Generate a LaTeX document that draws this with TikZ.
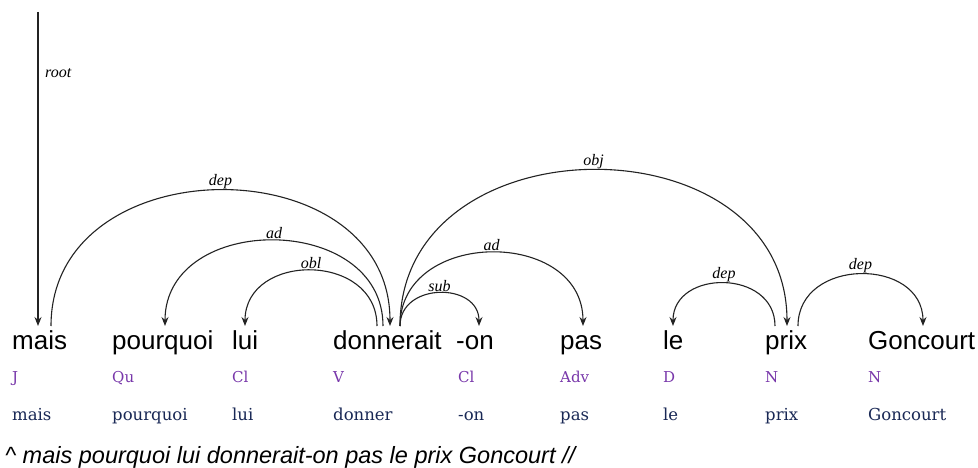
\documentclass[tikz,border=0pt]{standalone}
\usepackage{fontspec}
\setmainfont{Liberation Serif}
\newfontfamily\wordfont{Liberation Sans}
\newfontfamily\posfont{DejaVu Serif}
\usetikzlibrary{arrows.meta}
\definecolor{arcgray}{RGB}{35,35,35}
\definecolor{pospurple}{RGB}{120,55,170}
\definecolor{lemmablue}{RGB}{25,40,85}
\begin{document}
\begin{tikzpicture}[x=1pt,y=-1pt,
  word/.style={anchor=base west, inner sep=0pt, font=\wordfont\fontsize{26}{26}\selectfont},
  postag/.style={anchor=base west, inner sep=0pt, text=pospurple, font=\posfont\fontsize{15}{15}\selectfont},
  lemma/.style={anchor=base west, inner sep=0pt, text=lemmablue, font=\posfont\fontsize{16.5}{17}\selectfont},
  rel/.style={font=\itshape\fontsize{16}{16}\selectfont, inner sep=1pt, anchor=south},
  deparc/.style={draw=arcgray, line width=1.1pt, -{Stealth[length=9pt,width=7pt,inset=3pt]}}
]
\path[fill=white] (0,0) rectangle (978,468);
\useasboundingbox (0,0) rectangle (978,468);

% words
\node[word] (w1) at (12,349) {mais};
\node[word] (w2) at (112,349) {pourquoi};
\node[word] (w3) at (232,349) {lui};
\node[word] (w4) at (333,349) {donnerait};
\node[word] (w5) at (456,349) {-on};
\node[word] (w6) at (560,349) {pas};
\node[word] (w7) at (663,349) {le};
\node[word] (w8) at (765,349) {prix};
\node[word] (w9) at (868,349) {Goncourt};

% POS tags
\node[postag] (p1) at (12,382) {J};
\node[postag] (p2) at (112,382) {Qu};
\node[postag] (p3) at (232,382) {Cl};
\node[postag] (p4) at (333,382) {V};
\node[postag] (p5) at (458,382) {Cl};
\node[postag] (p6) at (560,382) {Adv};
\node[postag] (p7) at (663,382) {D};
\node[postag] (p8) at (765,382) {N};
\node[postag] (p9) at (868,382) {N};

% lemmas
\node[lemma] (l1) at (12,420) {mais};
\node[lemma] (l2) at (112,420) {pourquoi};
\node[lemma] (l3) at (232,420) {lui};
\node[lemma] (l4) at (333,420) {donner};
\node[lemma] (l5) at (458,420) {-on};
\node[lemma] (l6) at (560,420) {pas};
\node[lemma] (l7) at (663,420) {le};
\node[lemma] (l8) at (765,420) {prix};
\node[lemma] (l9) at (868,420) {Goncourt};

% sentence
\node[anchor=base west, inner sep=0pt, font=\wordfont\itshape\fontsize{23.5}{24}\selectfont] (sent) at (5,463)
  {\textasciicircum{} mais pourquoi lui donnerait-on pas le prix Goncourt //};

% arc end points
\coordinate (rootTop) at (38,12);
\coordinate (maisR) at (38,326);
\coordinate (maisO) at (51,326);
\coordinate (pqA) at (165,326);
\coordinate (luiA) at (245,326);
\coordinate (donC) at (377,326);
\coordinate (donB) at (383,326);
\coordinate (donA) at (390,326);
\coordinate (donD) at (400,326);
\coordinate (onA) at (479,326);
\coordinate (pasA) at (583,326);
\coordinate (leA) at (673,326);
\coordinate (prixO) at (775,326);
\coordinate (prixA) at (787,326);
\coordinate (prixP) at (798,326);
\coordinate (gonA) at (923,326);

% root
\draw[deparc] (rootTop) -- (maisR);
\node[font=\itshape\fontsize{16}{16}\selectfont, anchor=west, inner sep=0pt] (rootlab) at (45,73) {root};

% arcs
\draw[deparc] (maisO) .. controls +(0,-181) and +(0,-181) .. (donA) node[rel,pos=0.5] (r1) {dep};
\draw[deparc] (donB) .. controls +(0,-114) and +(0,-114) .. (pqA) node[rel,pos=0.5] (r2) {ad};
\draw[deparc] (donC) .. controls +(0,-74) and +(0,-74) .. (luiA) node[rel,pos=0.5] (r3) {obl};
\draw[deparc] (donD) .. controls +(0,-44) and +(0,-44) .. (onA) node[rel,pos=0.5] (r4) {sub};
\draw[deparc] (donD) .. controls +(0,-98) and +(0,-98) .. (pasA) node[rel,pos=0.5] (r5) {ad};
\draw[deparc] (donD) .. controls +(0,-208) and +(0,-208) .. (prixA) node[rel,pos=0.5] (r6) {obj};
\draw[deparc] (prixO) .. controls +(0,-57) and +(0,-57) .. (leA) node[rel,pos=0.5] (r7) {dep};
\draw[deparc] (prixP) .. controls +(0,-69) and +(0,-69) .. (gonA) node[rel,pos=0.5] (r8) {dep};
\end{tikzpicture}
\end{document}
